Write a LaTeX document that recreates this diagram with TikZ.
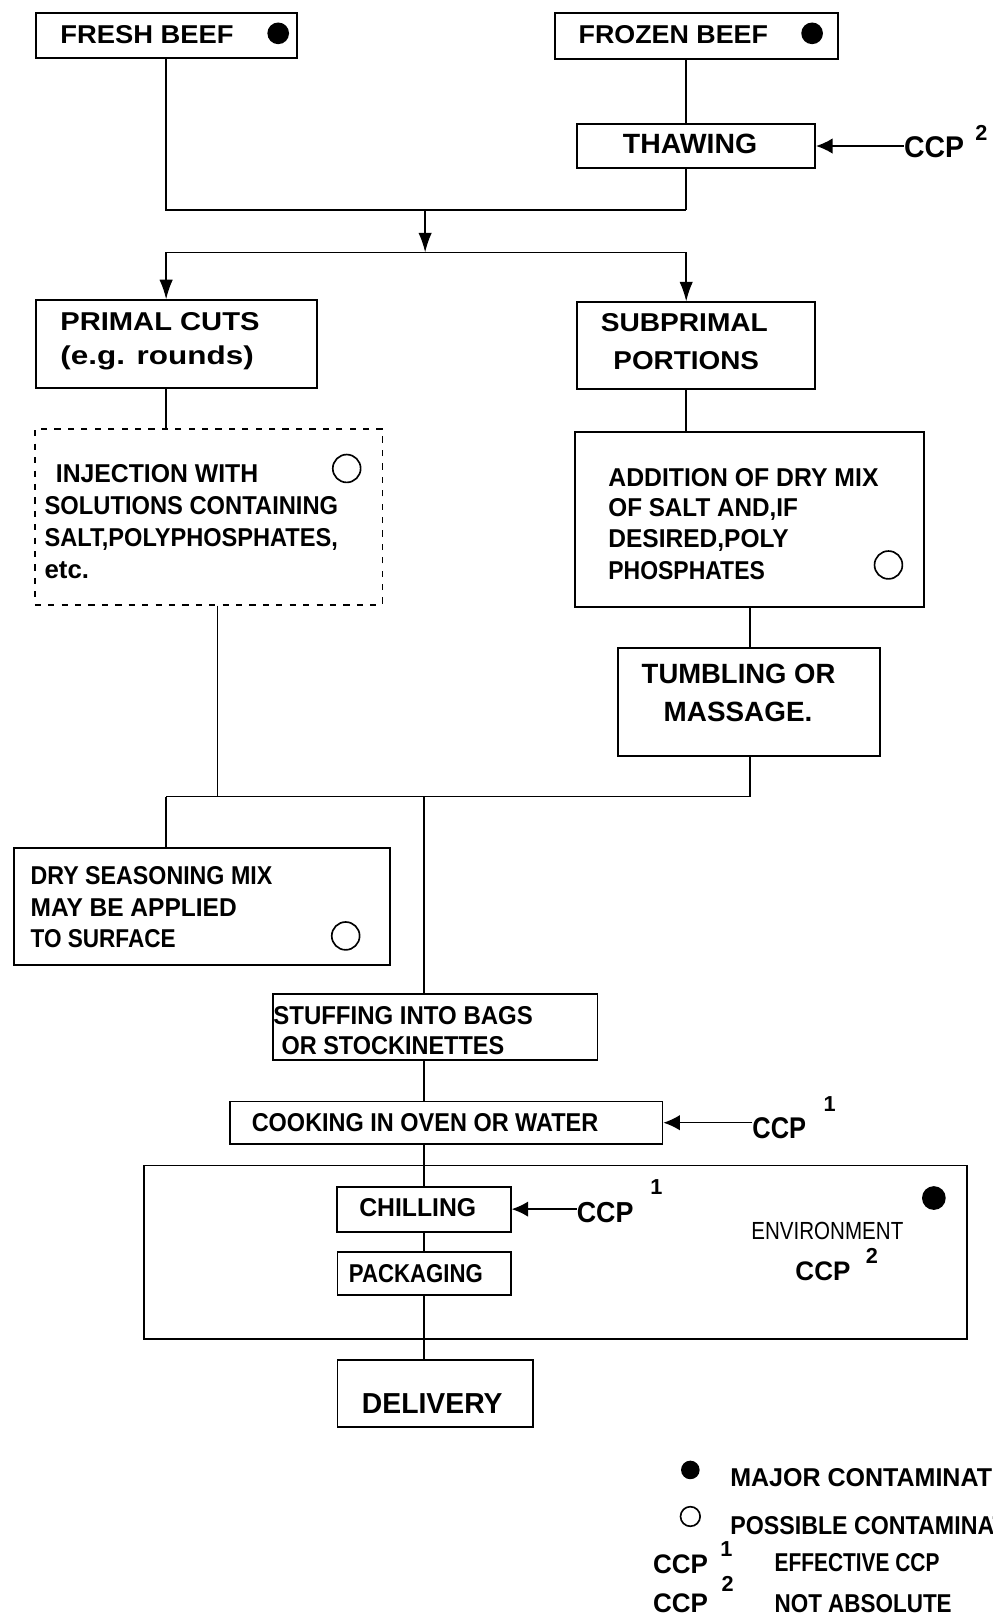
\documentclass[tikz,border=0pt]{standalone}
\usepackage{fontspec}
\setmainfont{Liberation Sans}
\usepackage{graphicx}
\usetikzlibrary{arrows.meta}
\newcommand\sx[2]{\scalebox{#1}[1]{#2}}
\begin{document}
\begin{tikzpicture}[x=1pt,y=-1pt,
  box/.style={draw, line width=1.8pt, inner sep=0pt},
  dbox/.style={draw, line width=1.6pt, dash pattern=on 6pt off 7pt, inner sep=0pt},
  conn/.style={line width=1.4pt},
  arr/.style={conn, -{Latex[length=19pt,width=13pt]}},
  carr/.style={conn, -{Latex[length=16pt,width=15pt]}},
  lbl/.style={inner sep=0pt, anchor=base west, font=\bfseries\fontsize{#1}{#1}\selectfont},
  lbl/.default=25,
  ocirc/.style={draw, circle, line width=1.6pt, minimum size=27pt, inner sep=0pt},
  fdot/.style={fill, circle, minimum size=21pt, inner sep=0pt}]
\useasboundingbox (0,0) rectangle (962,1568);
\clip (0,0) rectangle (962,1568);

% boxes
\node[box, minimum width=253pt, minimum height=43.5pt] (fresh) at (161,34.75) {};
\node[box, minimum width=274pt, minimum height=44pt] (frozen) at (675,35) {};
\node[box, minimum width=231pt, minimum height=43pt] (thaw) at (674.5,141.5) {};
\node[box, minimum width=272.6pt, minimum height=85pt] (primal) at (171.3,333.5) {};
\node[box, minimum width=231pt, minimum height=84pt] (subp) at (674.5,335) {};
\node[dbox, minimum width=337pt, minimum height=170pt] (inj) at (202.25,501) {};
\node[box, minimum width=338.2pt, minimum height=169pt] (add) at (726.6,503.5) {};
\node[box, minimum width=253.8pt, minimum height=104.5pt] (tumb) at (725.9,680.25) {};
\node[box, minimum width=364.4pt, minimum height=113.6pt] (dry) at (195.8,878.2) {};
\node[box, minimum width=314.3pt, minimum height=64pt] (stuff) at (421.85,995) {};
\node[box, minimum width=419.5pt, minimum height=41pt] (cook) at (432.25,1088) {};
\node[box, minimum width=797.6pt, minimum height=168.3pt] (env) at (538.6,1213.65) {};
\node[box, minimum width=168.4pt, minimum height=43.5pt] (chill) at (410.8,1171.75) {};
\node[box, minimum width=168pt, minimum height=42pt] (pack) at (411,1234) {};
\node[box, minimum width=189.5pt, minimum height=64.5pt] (deliv) at (421.75,1350.25) {};

% texts
\node[lbl] (tfresh) at (58.3,42) {\sx{1.06}{FRESH BEEF}};
\node[fdot] (dfresh) at (269.6,32.3) {};
\node[lbl] (tfrozen) at (560.6,42.3) {\sx{1.04}{FROZEN BEEF}};
\node[fdot] (dfrozen) at (787,32.3) {};
\node[lbl=27] (tthaw) at (603.5,148.6) {\sx{1.02}{THAWING}};
\node[lbl=29] (ccpA) at (876,153) {\sx{0.95}{CCP}};
\node[lbl=21] (supA) at (945,135.7) {2};

\node[lbl] (tp1) at (58.3,320) {\sx{1.13}{PRIMAL CUTS}};
\node[lbl] (tp2) at (58.3,353.7) {\sx{1.22}{(e.g. rounds)}};
\node[lbl] (ts1) at (582,321.4) {\sx{1.09}{SUBPRIMAL}};
\node[lbl] (ts2) at (594.3,358.5) {\sx{1.08}{PORTIONS}};

\node[lbl] (ti1) at (54,468) {\sx{0.96}{INJECTION WITH}};
\node[lbl] (ti2) at (43,499) {\sx{0.92}{SOLUTIONS CONTAINING}};
\node[lbl] (ti3) at (43,530) {\sx{0.915}{SALT,POLYPHOSPHATES,}};
\node[lbl] (ti4) at (43,560.6) {etc.};
\node[ocirc] (oinj) at (336,454) {};

\node[lbl] (ta1) at (589.4,471) {\sx{0.96}{ADDITION OF DRY MIX}};
\node[lbl] (ta2) at (589.4,501) {\sx{0.94}{OF SALT AND,IF}};
\node[lbl] (ta3) at (589.4,531) {\sx{0.95}{DESIRED,POLY}};
\node[lbl] (ta4) at (589.4,562) {\sx{0.89}{PHOSPHATES}};
\node[ocirc] (oadd) at (861,547.5) {};

\node[lbl=27] (tt1) at (621.7,662) {\sx{0.985}{TUMBLING OR}};
\node[lbl=27] (tt2) at (643,699.5) {MASSAGE.};

\node[lbl] (td1) at (29.5,857.5) {\sx{0.90}{DRY SEASONING MIX}};
\node[lbl] (td2) at (29.5,888) {\sx{0.95}{MAY BE APPLIED}};
\node[lbl] (td3) at (29.5,918.6) {\sx{0.875}{TO SURFACE}};
\node[ocirc] (odry) at (335,907) {};

\node[lbl] (tst1) at (264.7,993) {\sx{0.93}{STUFFING INTO BAGS}};
\node[lbl] (tst2) at (272.7,1022) {\sx{0.91}{OR STOCKINETTES}};

\node[lbl] (tcook) at (243.8,1096.5) {\sx{0.91}{COOKING IN OVEN OR WATER}};
\node[lbl=29] (ccpB) at (729,1103) {\sx{0.85}{CCP}};
\node[lbl=21] (supB) at (798,1077.5) {1};

\node[lbl] (tchill) at (348,1179) {\sx{0.96}{CHILLING}};
\node[lbl=28] (ccpC) at (558.8,1185) {\sx{0.93}{CCP}};
\node[lbl=21] (supC) at (630,1158) {1};

\node[lbl] (tpack) at (338,1243) {\sx{0.86}{PACKAGING}};

\node[fdot, minimum size=23pt] (denv) at (905,1161) {};
\node[lbl=24] (tenv) at (728,1201.5) {\mdseries\sx{0.83}{ENVIRONMENT}};
\node[lbl=26] (ccpD) at (770.7,1240.5) {\sx{0.97}{CCP}};
\node[lbl=21] (supD) at (839,1224) {2};

\node[lbl=28] (tdeliv) at (350.6,1369.5) {\sx{0.98}{DELIVERY}};

% legend
\node[fdot, minimum size=18pt] (ldot) at (669,1424.5) {};
\node[lbl] (lt1) at (707.5,1440.6) {\sx{0.97}{MAJOR CONTAMINATION}};
\node[ocirc, minimum size=19pt] (lcirc) at (669,1469.6) {};
\node[lbl] (lt2) at (707.5,1487.5) {\sx{0.90}{POSSIBLE CONTAMINATION}};
\node[lbl=26] (lccp1) at (632.7,1524.5) {\sx{0.97}{CCP}};
\node[lbl=21] (lsup1) at (698,1508) {1};
\node[lbl] (lt3) at (750.5,1523) {\sx{0.81}{EFFECTIVE CCP}};
\node[lbl=26] (lccp2) at (632.7,1563) {\sx{0.97}{CCP}};
\node[lbl=21] (lsup2) at (699,1542.6) {2};
\node[lbl] (lt4) at (750.5,1563) {\sx{0.87}{NOT ABSOLUTE}};

% junction coordinates
\coordinate (cL) at (161,203.5);
\coordinate (cM) at (412,203.5);
\coordinate (cR) at (665,203.5);
\coordinate (dL) at (161,244.6);
\coordinate (dM) at (412,244.6);
\coordinate (dR) at (665,244.6);
\coordinate (mL) at (161,772);
\coordinate (mI) at (211,772);
\coordinate (mM) at (411,772);
\coordinate (mR) at (727,772);

% connectors
\draw[conn] (fresh.south) -- (cL) -- (cR);
\draw[conn] (frozen.south -| cR) -- (thaw.north -| cR);
\draw[conn] (thaw.south -| cR) -- (cR);
\draw[arr] (cM) -- (dM);
\draw[conn] (dL) -- (dR);
\draw[arr] (dL) -- (primal.north -| dL);
\draw[arr] (dR) -- (subp.north -| dR);
\draw[conn] (primal.south -| dL) -- (inj.north -| dL);
\draw[conn] (subp.south -| dR) -- (add.north -| dR);
\draw[conn] (add.south -| mR) -- (tumb.north -| mR);
\draw[conn] (inj.south -| mI) -- (mI);
\draw[conn] (tumb.south -| mR) -- (mR);
\draw[conn] (mL) -- (mR);
\draw[conn] (mL) -- (dry.north -| mL);
\draw[conn] (mM) -- (stuff.north -| mM);
\draw[conn] (stuff.south -| mM) -- (cook.north -| mM);
\draw[conn] (cook.south -| mM) -- (chill.north -| mM);
\draw[conn] (chill.south -| mM) -- (pack.north -| mM);
\draw[conn] (pack.south -| mM) -- (deliv.north -| mM);

\draw[carr] (ccpA.west |- thaw.east) -- (thaw.east);
\draw[carr] (ccpB.west |- cook.east) -- (cook.east);
\draw[carr] (ccpC.west |- chill.east) -- (chill.east);
\end{tikzpicture}
\end{document}
